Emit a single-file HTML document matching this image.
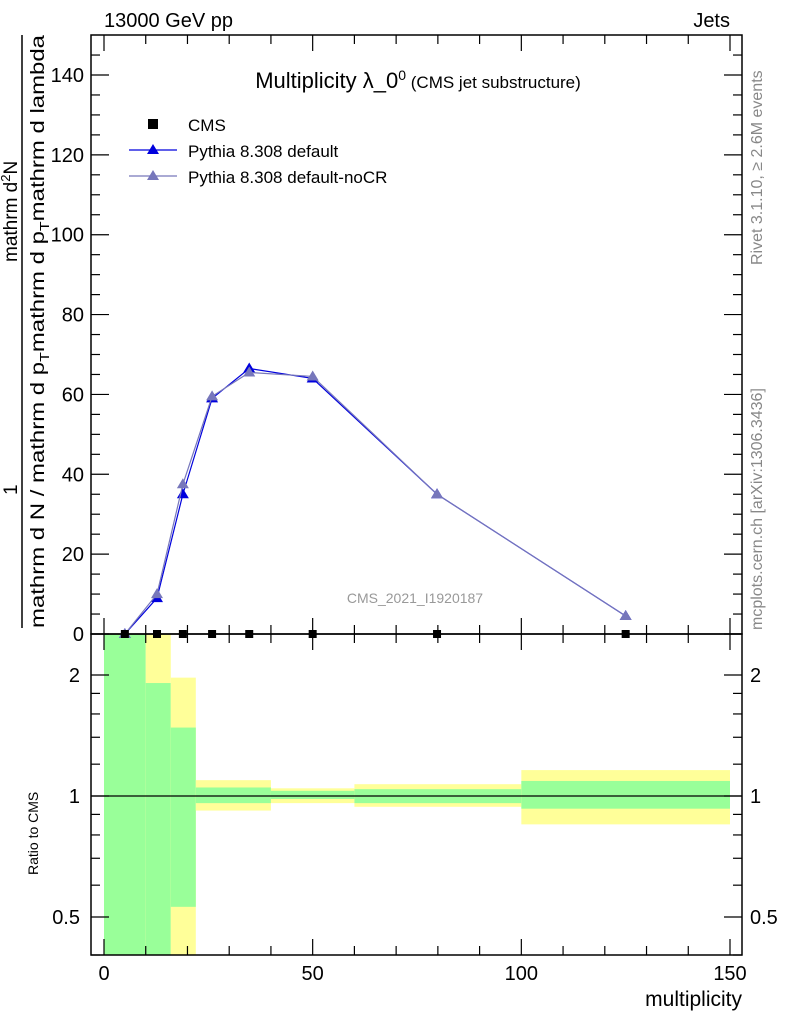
<!DOCTYPE html>
<html><head><meta charset="utf-8"><style>
body{margin:0;background:#fff;}
svg{display:block;font-family:"Liberation Sans",sans-serif;}
</style></head><body>
<svg id="c" width="786" height="1024" viewBox="0 0 786 1024" xmlns="http://www.w3.org/2000/svg">
<text x="104" y="27" font-size="20">13000 GeV pp</text>
<text x="730" y="27" font-size="20" text-anchor="end">Jets</text>
<g id="bands"></g>
<g id="marks"></g>
<rect x="91" y="35" width="651" height="599" fill="none" stroke="#000" stroke-width="1.5"/>
<rect x="91" y="634" width="651" height="321" fill="none" stroke="#000" stroke-width="1.5"/>
<g id="axes"></g>
<text x="418" y="88" font-size="22" text-anchor="middle">Multiplicity λ_0<tspan font-size="14" dy="-8">0</tspan><tspan font-size="17" dy="8"> (CMS jet substructure)</tspan></text>
<g>
<rect x="148" y="119" width="10" height="10" fill="#000"/>
<text x="188" y="131" font-size="17">CMS</text>
<line x1="129" y1="150" x2="177" y2="150" stroke="#0000dd" stroke-width="1.2"/>
<polygon points="153,144 147,154 159,154" fill="#0000dd"/>
<text x="188" y="157" font-size="17">Pythia 8.308 default</text>
<line x1="129" y1="176" x2="177" y2="176" stroke="#7777bb" stroke-width="1.2"/>
<polygon points="153,170 147,180 159,180" fill="#7777bb"/>
<text x="188" y="183" font-size="17">Pythia 8.308 default-noCR</text>
</g>
<text x="415" y="603" font-size="14" fill="#999" text-anchor="middle">CMS_2021_I1920187</text>
<text transform="translate(762,265) rotate(-90)" font-size="16" fill="#888">Rivet 3.1.10, ≥ 2.6M events</text>
<text transform="translate(762,630) rotate(-90)" font-size="16" fill="#888">mcplots.cern.ch [arXiv:1306.3436]</text>
<g font-size="19">
<line x1="22" y1="35" x2="22" y2="628" stroke="#000" stroke-width="1.5"/>
<text transform="translate(17,495) rotate(-90)">1</text>
<text transform="translate(17,262) rotate(-90)">mathrm d<tspan font-size="13" dy="-7">2</tspan><tspan dy="7">N</tspan></text>
<text transform="translate(44,628) rotate(-90)" font-size="19.5" textLength="593" lengthAdjust="spacingAndGlyphs">mathrm d N / mathrm d p<tspan font-size="13" dy="5">T</tspan><tspan dy="-5">mathrm d p</tspan><tspan font-size="13" dy="5">T</tspan><tspan dy="-5">mathrm d lambda</tspan></text>
</g>
<text transform="translate(38,875) rotate(-90)" font-size="14">Ratio to CMS</text>
<text x="742" y="1006" font-size="21" text-anchor="end">multiplicity</text>
</svg>
<script>
const xCenters=[5,12.7,18.9,25.9,34.8,50,79.8,125];
const cmsVals=[0,0,0,0,0,0,0,0];
const defVals=[0,9,35,59,66.5,64,35,4.5];
const nocrVals=[0,10,37.5,59.5,65.5,64.5,35,4.5];
const binEdges=[0,10,16,22,40,60,100,150];
const yellowHi=[3,3,1.97,1.095,1.045,1.07,1.16];
const greenHi=[3,1.91,1.48,1.05,1.03,1.04,1.09];
const greenLo=[0.3,0.3,0.53,0.96,0.983,0.96,0.93];
const yellowLo=[0.3,0.3,0.3,0.92,0.96,0.94,0.85];
const mainTicks=[0,20,40,60,80,100,120,140];
const xTicks=[0,50,100,150];
const ratioTicks=[0.5,1,2];

const NS="http://www.w3.org/2000/svg";
const X=v=>104+v*626/150;
const Y=v=>634-v*559/140;
const R=v=>Math.max(634,Math.min(955,796-Math.log2(v)*121));
function mk(tag,attrs,parent){const e=document.createElementNS(NS,tag);for(const k in attrs)e.setAttribute(k,attrs[k]);parent.appendChild(e);return e;}
const bands=document.getElementById('bands'),marks=document.getElementById('marks'),axes=document.getElementById('axes');
for(let i=0;i<binEdges.length-1;i++){
 const x1=X(binEdges[i]),x2=X(binEdges[i+1]);
 const y=mk('rect',{x:x1,y:R(yellowHi[i]),width:x2-x1,height:R(yellowLo[i])-R(yellowHi[i]),fill:'#ffff99'},bands);
 
 
 const g=mk('rect',{x:x1,y:R(greenHi[i]),width:x2-x1,height:R(greenLo[i])-R(greenHi[i]),fill:'#99ff99'},bands);
 
 
}
const one=mk('line',{x1:91,x2:742,y1:R(1),y2:R(1),stroke:'#000','stroke-width':1.2},bands);


function series(vals,color,name){
 const p=mk('polyline',{points:vals.map((v,i)=>X(xCenters[i])+','+Y(v)).join(' '),fill:'none',stroke:color,'stroke-width':1.2},marks);
 
 
 vals.forEach((v,i)=>{const x=X(xCenters[i]),y=Y(v);
  const t=mk('polygon',{points:`${x},${y-6} ${x-6},${y+4} ${x+6},${y+4}`,fill:color},marks);
  
  });
}
series(defVals,'#0000dd','default');
series(nocrVals,'#7777bb','nocr');
cmsVals.forEach((v,i)=>{const s=mk('rect',{x:X(xCenters[i])-4,y:Y(v)-4,width:8,height:8,fill:'#000'},marks);
 
 });
function tick(x1,y1,x2,y2){mk('line',{x1,y1,x2,y2,stroke:'#000','stroke-width':1.2},axes);}
for(let v=0;v<=150;v+=10){const x=X(v),L=(v%50==0)?16:9;
 tick(x,35,x,35+L);tick(x,634,x,634-L);tick(x,634,x,634+L);tick(x,955,x,955-L);}
for(let v=0;v<=145;v+=5){const y=Y(v),L=(v%20==0)?18:9;tick(91,y,91+L,y);tick(742,y,742-L,y);}
mainTicks.forEach(v=>{const t=mk('text',{x:84,y:Y(v)+7,'font-size':20,'text-anchor':'end'},axes);t.textContent=v;
 
 });
xTicks.forEach(v=>{const t=mk('text',{x:X(v),y:980,'font-size':20,'text-anchor':'middle'},axes);t.textContent=v;
 
 });
[0.4,0.5,0.6,0.7,0.8,0.9,1,1.2,1.4,1.6,1.8,2].forEach(v=>{const y=R(v),L=ratioTicks.includes(v)?18:9;tick(91,y,91+L,y);tick(742,y,742-L,y);});
ratioTicks.forEach(v=>{const y=R(v)+7;
 const a=mk('text',{x:80,y,'font-size':20,'text-anchor':'end'},axes);a.textContent=v;
 
 
 const b=mk('text',{x:750,y,'font-size':20},axes);b.textContent=v;
 
 });
</script>
</body></html>
